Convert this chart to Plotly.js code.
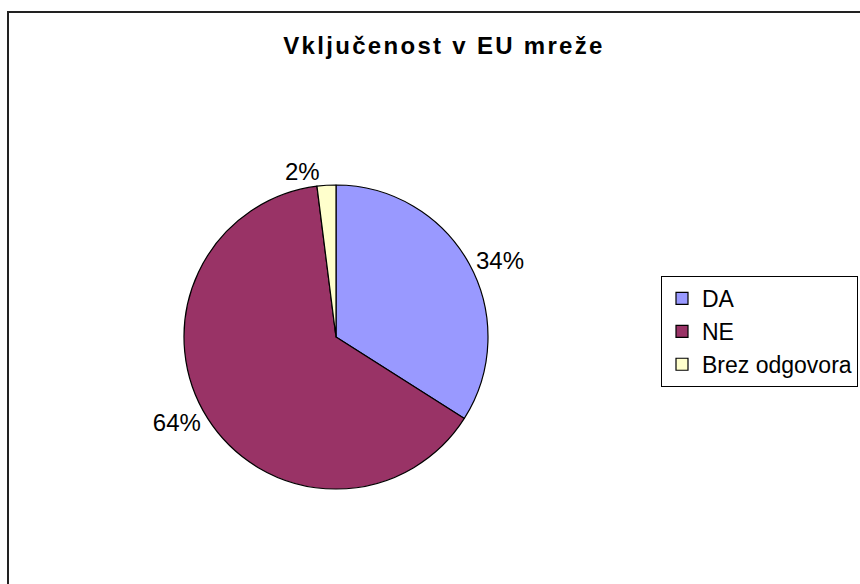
<!DOCTYPE html>
<html>
<head>
<meta charset="utf-8">
<script src="https://cdn.plot.ly/plotly-3.0.1.min.js"></script>
<style>
  html, body { margin: 0; padding: 0; background: #fff; }
  #chart { width: 860px; height: 584px; }
  .gtitle { letter-spacing: 2.3px; }
</style>
</head>
<body>
<div id="chart"></div>
<script>
const categories = ["DA", "NE", "Brez odgovora"];
const shares = [34, 64, 2];
const sliceColors = ["#9999FF", "#993366", "#FFFFCC"];
const chartTitle = "Vključenost v EU mreže";

const trace = {
  type: "pie",
  labels: categories,
  values: shares,
  sort: false,
  direction: "clockwise",
  rotation: 0,
  textinfo: "percent",
  texttemplate: "%{percent:.0%}",
  textposition: "outside",
  outsidetextfont: { family: "Liberation Sans, Arial, sans-serif", size: 24, color: "#000" },
  marker: { colors: sliceColors, line: { color: "#000", width: 1.2 } },
  domain: { x: [184/860, 488/860], y: [1 - 489/584, 1 - 185/584] },
  hoverinfo: "label+percent"
};

const layout = {
  width: 860,
  height: 584,
  margin: { l: 0, r: 0, t: 0, b: 0 },
  paper_bgcolor: "#fff",
  plot_bgcolor: "#fff",
  font: { family: "Liberation Sans, Arial, sans-serif", size: 24, color: "#000" },
  title: {
    text: "<b>" + chartTitle + "</b>",
    x: 444/860, xanchor: "center", xref: "paper",
    y: 1 - 46/584, yanchor: "middle", yref: "paper",
    font: { family: "Liberation Sans, Arial, sans-serif", size: 24, color: "#000" }
  },
  showlegend: true,
  legend: {
    x: 661/860, xanchor: "left",
    y: 1 - 276/584, yanchor: "top",
    bgcolor: "#fff",
    bordercolor: "#000",
    borderwidth: 1,
    font: { family: "Liberation Sans, Arial, sans-serif", size: 23, color: "#000" },
    traceorder: "normal"
  },
  shapes: [{
    type: "rect", xref: "paper", yref: "paper",
    x0: 8/860, x1: 1.2, y0: -0.2, y1: 1 - 12/584,
    line: { color: "#222", width: 2 },
    fillcolor: "rgba(0,0,0,0)",
    layer: "below"
  }]
};

Plotly.newPlot("chart", [trace], layout, { displayModeBar: false, staticPlot: true });
</script>
</body>
</html>
